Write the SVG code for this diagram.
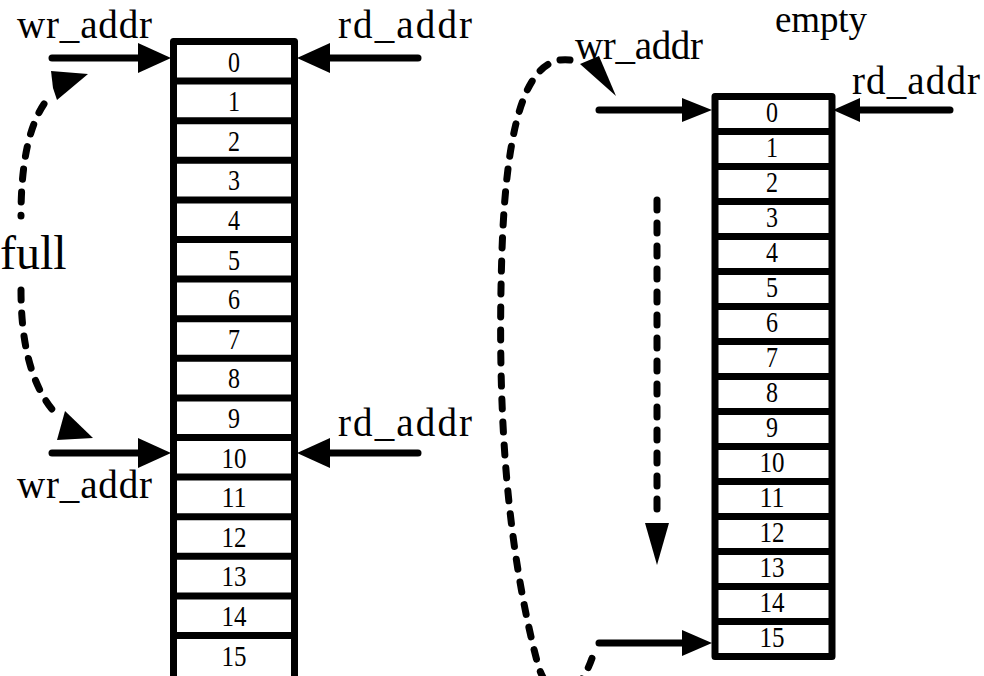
<svg xmlns="http://www.w3.org/2000/svg" width="984" height="676" viewBox="0 0 984 676">
<defs>
<style>
.lbl{font-family:"Liberation Serif","DejaVu Serif",serif;font-size:39px;fill:#000}
.num{font-family:"Liberation Serif","DejaVu Serif",serif;font-size:30px;fill:#000;text-anchor:middle}
.box{fill:#fff;stroke:#000;stroke-width:7;stroke-linejoin:round}
.div{stroke:#000;stroke-width:7}
.ln{stroke:#000;stroke-width:7;stroke-linecap:round;fill:none}
.dash{stroke:#000;stroke-width:7;stroke-linecap:round;fill:none;stroke-dasharray:10 13}
.hd{fill:#000}
</style>
</defs>
<rect width="984" height="676" fill="#fff"/>

<g id="fifo-full">
<rect class="box" x="173.5" y="41.5" width="121" height="642"/>
<path class="div" d="M173.5 81.1H294.5M173.5 120.7H294.5M173.5 160.3H294.5M173.5 199.9H294.5M173.5 239.5H294.5M173.5 279.1H294.5M173.5 318.7H294.5M173.5 358.3H294.5M173.5 397.9H294.5M173.5 437.5H294.5M173.5 477.1H294.5M173.5 516.7H294.5M173.5 556.3H294.5M173.5 595.9H294.5M173.5 635.5H294.5"/>
<text class="num" x="234" y="72" textLength="12" lengthAdjust="spacingAndGlyphs">0</text>
<text class="num" x="234" y="111" textLength="12" lengthAdjust="spacingAndGlyphs">1</text>
<text class="num" x="234" y="151" textLength="12" lengthAdjust="spacingAndGlyphs">2</text>
<text class="num" x="234" y="190" textLength="12" lengthAdjust="spacingAndGlyphs">3</text>
<text class="num" x="234" y="230" textLength="12" lengthAdjust="spacingAndGlyphs">4</text>
<text class="num" x="234" y="270" textLength="12" lengthAdjust="spacingAndGlyphs">5</text>
<text class="num" x="234" y="309" textLength="12" lengthAdjust="spacingAndGlyphs">6</text>
<text class="num" x="234" y="349" textLength="12" lengthAdjust="spacingAndGlyphs">7</text>
<text class="num" x="234" y="388" textLength="12" lengthAdjust="spacingAndGlyphs">8</text>
<text class="num" x="234" y="428" textLength="12" lengthAdjust="spacingAndGlyphs">9</text>
<text class="num" x="234" y="468" textLength="25" lengthAdjust="spacingAndGlyphs">10</text>
<text class="num" x="234" y="507" textLength="25" lengthAdjust="spacingAndGlyphs">11</text>
<text class="num" x="234" y="547" textLength="25" lengthAdjust="spacingAndGlyphs">12</text>
<text class="num" x="234" y="586" textLength="25" lengthAdjust="spacingAndGlyphs">13</text>
<text class="num" x="234" y="626" textLength="25" lengthAdjust="spacingAndGlyphs">14</text>
<text class="num" x="234" y="666" textLength="25" lengthAdjust="spacingAndGlyphs">15</text>
</g>

<g id="fifo-empty">
<rect class="box" x="715" y="96.5" width="117" height="560"/>
<path class="div" d="M715 131.5H832M715 166.5H832M715 201.5H832M715 236.5H832M715 271.5H832M715 306.5H832M715 341.5H832M715 376.5H832M715 411.5H832M715 446.5H832M715 481.5H832M715 516.5H832M715 551.5H832M715 586.5H832M715 621.5H832"/>
<text class="num" x="772" y="122" textLength="12" lengthAdjust="spacingAndGlyphs">0</text>
<text class="num" x="772" y="157" textLength="12" lengthAdjust="spacingAndGlyphs">1</text>
<text class="num" x="772" y="192" textLength="12" lengthAdjust="spacingAndGlyphs">2</text>
<text class="num" x="772" y="227" textLength="12" lengthAdjust="spacingAndGlyphs">3</text>
<text class="num" x="772" y="262" textLength="12" lengthAdjust="spacingAndGlyphs">4</text>
<text class="num" x="772" y="297" textLength="12" lengthAdjust="spacingAndGlyphs">5</text>
<text class="num" x="772" y="332" textLength="12" lengthAdjust="spacingAndGlyphs">6</text>
<text class="num" x="772" y="367" textLength="12" lengthAdjust="spacingAndGlyphs">7</text>
<text class="num" x="772" y="402" textLength="12" lengthAdjust="spacingAndGlyphs">8</text>
<text class="num" x="772" y="437" textLength="12" lengthAdjust="spacingAndGlyphs">9</text>
<text class="num" x="772" y="472" textLength="25" lengthAdjust="spacingAndGlyphs">10</text>
<text class="num" x="772" y="507" textLength="25" lengthAdjust="spacingAndGlyphs">11</text>
<text class="num" x="772" y="542" textLength="25" lengthAdjust="spacingAndGlyphs">12</text>
<text class="num" x="772" y="577" textLength="25" lengthAdjust="spacingAndGlyphs">13</text>
<text class="num" x="772" y="612" textLength="25" lengthAdjust="spacingAndGlyphs">14</text>
<text class="num" x="772" y="647" textLength="25" lengthAdjust="spacingAndGlyphs">15</text>
</g>

<g id="labels">
<text class="lbl" x="17" y="38" textLength="135" lengthAdjust="spacing">wr_addr</text>
<text class="lbl" x="338" y="38" textLength="134" lengthAdjust="spacing">rd_addr</text>
<text class="lbl" x="0" y="269" style="font-size:48px">full</text>
<text class="lbl" x="338" y="436" textLength="134" lengthAdjust="spacing">rd_addr</text>
<text class="lbl" x="17" y="498" textLength="135" lengthAdjust="spacing">wr_addr</text>
<text class="lbl" x="775" y="32" textLength="92" lengthAdjust="spacing" style="font-size:37px">empty</text>
<text class="lbl" x="575" y="59" textLength="128" lengthAdjust="spacing">wr_addr</text>
<text class="lbl" x="852" y="94" textLength="128" lengthAdjust="spacing">rd_addr</text>
</g>

<g id="connectors">
<line class="ln" x1="52" y1="58" x2="140" y2="58"/>
<polygon class="hd" points="138,43 171,58 138,73"/>
<line class="ln" x1="418" y1="58" x2="328" y2="58"/>
<polygon class="hd" points="330,43 297,58 330,73"/>
<line class="ln" x1="52" y1="453" x2="140" y2="453"/>
<polygon class="hd" points="138,438 171,453 138,468"/>
<line class="ln" x1="418" y1="453" x2="328" y2="453"/>
<polygon class="hd" points="330,438 297,453 330,468"/>
<path class="dash" d="M44,104 C30,125 21,160 21,216"/>
<polygon class="hd" points="51,71 88,74 57,100 53,88"/>
<path class="dash" d="M21,290 C21,340 30,385 56,414"/>
<polygon class="hd" points="65,411 93,438 57,440"/>

<line class="ln" x1="599" y1="110" x2="684" y2="110"/>
<polygon class="hd" points="682,98 712,110 682,122"/>
<line class="ln" x1="950" y1="110" x2="858" y2="110"/>
<polygon class="hd" points="860,98 833,110 860,122"/>
<line class="ln" x1="599" y1="643" x2="684" y2="643"/>
<polygon class="hd" points="682,630 712,643 682,656"/>
<path class="dash" d="M570,60 C530,55 507,110 502,250 C497,400 505,540 538,665 C550,705 580,700 594,652"/>
<polygon class="hd" points="580,64 599,56 616,96"/>
<line class="dash" x1="657" y1="200" x2="657" y2="515"/>
<polygon class="hd" points="645,523 669,523 657,565"/>
</g>
</svg>
